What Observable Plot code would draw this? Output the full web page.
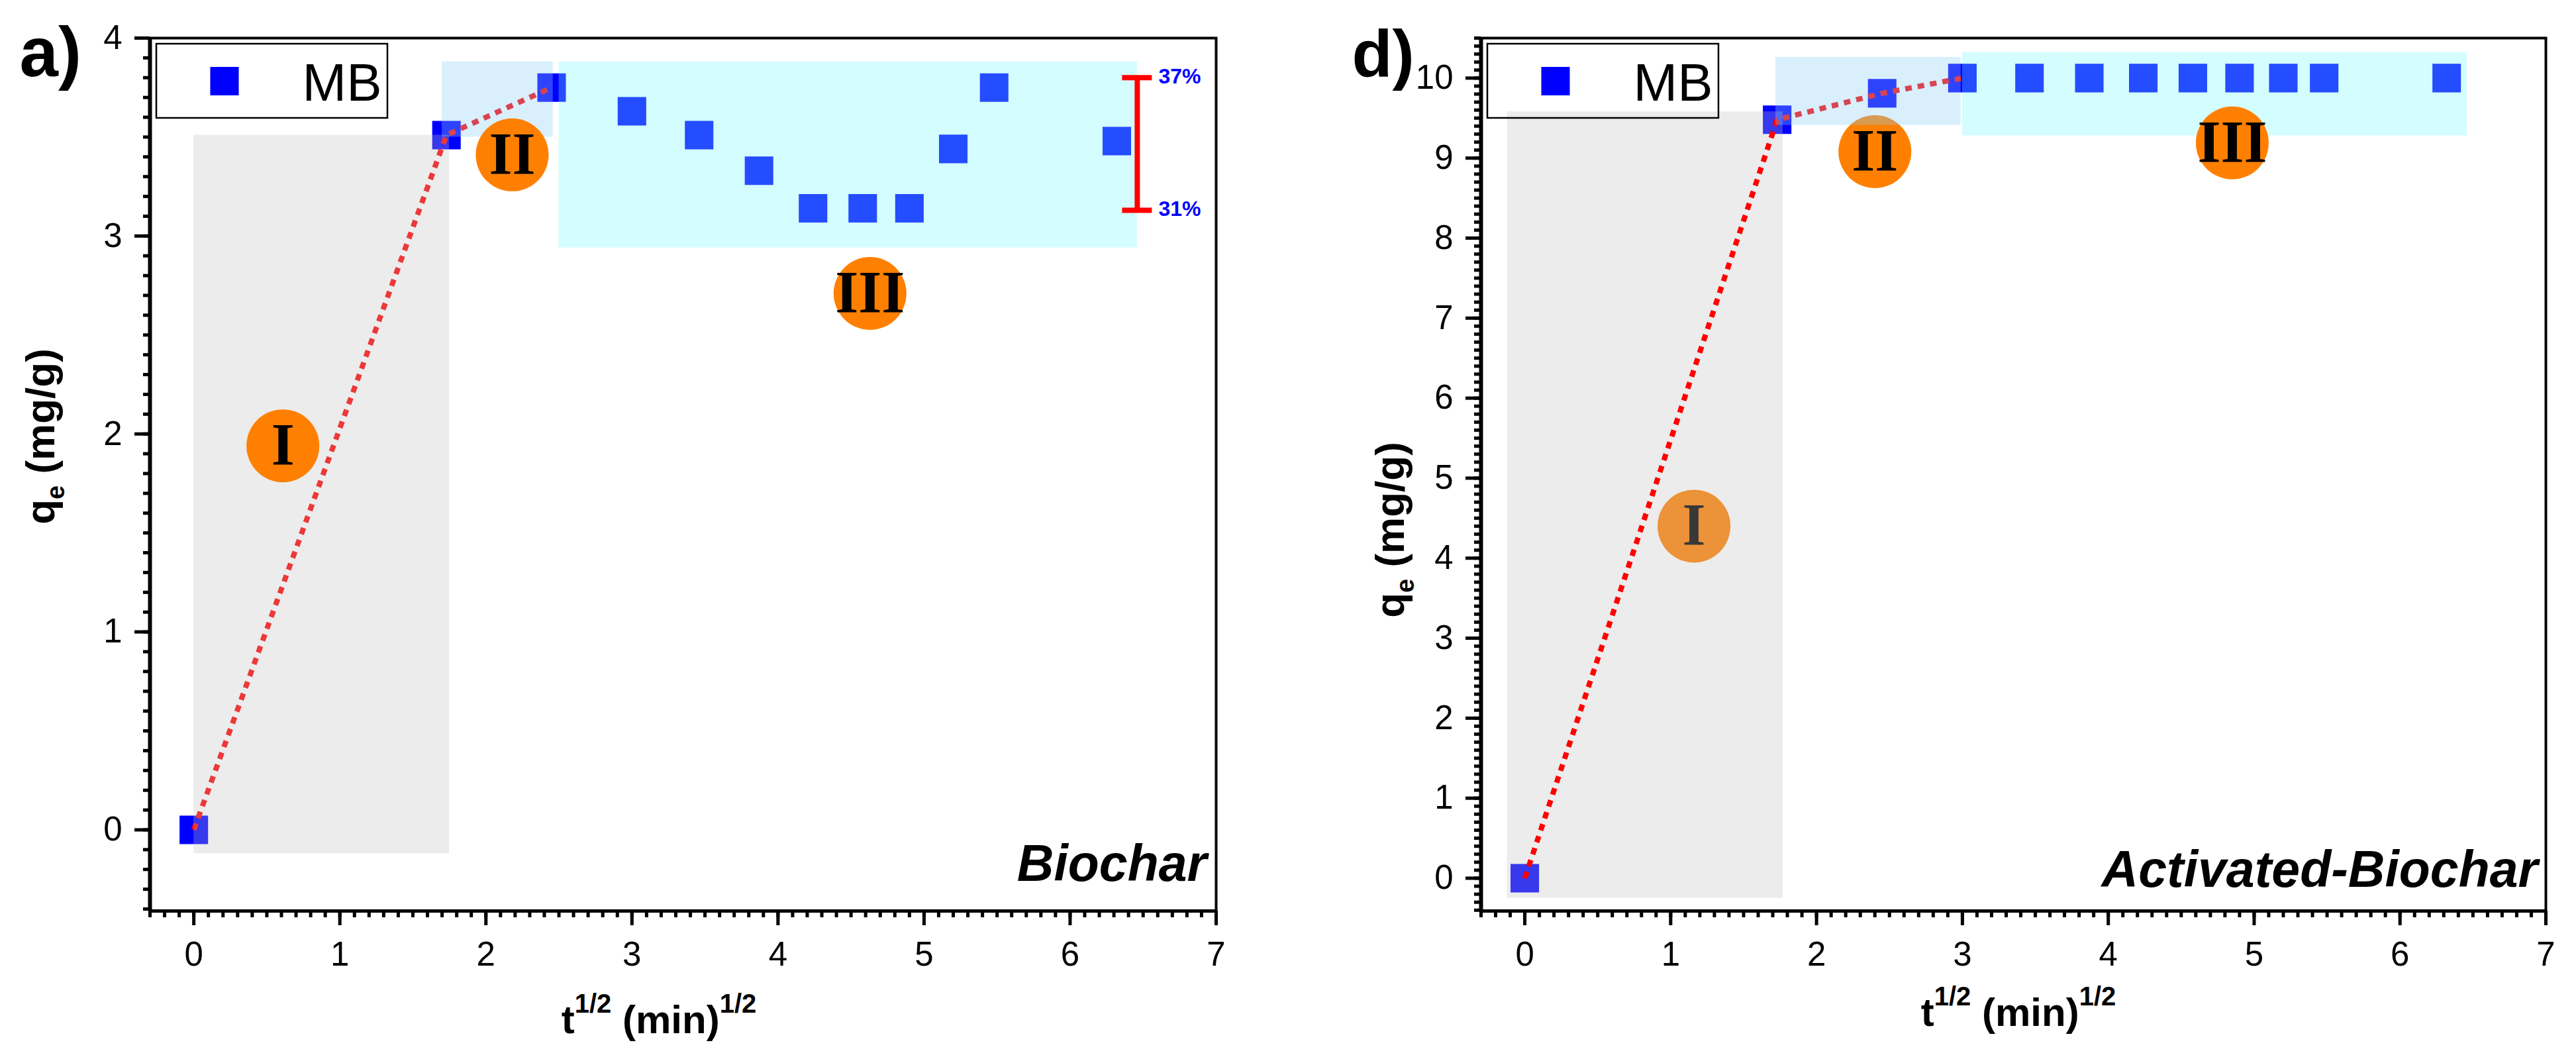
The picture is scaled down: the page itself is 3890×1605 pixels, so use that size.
<!DOCTYPE html>
<html>
<head>
<meta charset="utf-8">
<script src="https://cdn.jsdelivr.net/npm/d3@7"></script>
<script src="https://cdn.jsdelivr.net/npm/@observablehq/plot@0.6"></script>
<style>
  html, body { margin: 0; padding: 0; background: #fff; }
  #wrap { position: relative; width: 3890px; height: 1605px; overflow: hidden; background: #fff; }
  #wrap > svg { position: absolute; top: 0; overflow: visible; }
</style>
</head>
<body>
<div id="wrap"></div>
<script>
// ---------------- data ----------------
const sqrtTime    = [0, 1.73, 2.45, 3.00, 3.46, 3.87, 4.24, 4.58, 4.90, 5.20, 5.48, 6.32];
const qeBiochar   = [0, 3.51, 3.75, 3.63, 3.51, 3.33, 3.14, 3.14, 3.14, 3.44, 3.75, 3.48];
const qeActivated = [0, 9.48, 9.81, 10.0, 10.0, 10.0, 10.0, 10.0, 10.0, 10.0, 10.0, 10.0];
const fitPointsA = 3;   // points joined by the dotted line (Biochar)
const fitPointsD = 4;   // points joined by the dotted line (Activated-Biochar)
const seriesName = "MB";
const panelLetters = ["a)", "d)"];
const panelNames = ["Biochar", "Activated-Biochar"];

const stageLabels = ["I", "II", "III"];
const stageXA = [0.61, 2.18, 4.63];
const stageYA = [1.94, 3.41, 2.71];
const stageXD = [1.16, 2.40, 4.85];
const stageYD = [4.40, 9.08, 9.19];

// shaded stage regions (gray, light blue, cyan)
const regionX1A = [0.00, 1.70, 2.50], regionX2A = [1.75, 2.46, 6.46];
const regionY1A = [-0.12, 3.50, 2.94], regionY2A = [3.51, 3.88, 3.88];
const regionX1D = [-0.12, 1.72, 3.00], regionX2D = [1.77, 2.99, 6.46];
const regionY1D = [-0.25, 9.41, 9.28], regionY2D = [9.58, 10.26, 10.32];

// variation bar in panel a
const rangeX = 6.46;
const rangeValues = [3.13, 3.80];
const rangeLabels = ["31%", "37%"];

const xTicks  = [0, 1, 2, 3, 4, 5, 6, 7];
const yTicksA = [0, 1, 2, 3, 4];
const yTicksD = [0, 1, 2, 3, 4, 5, 6, 7, 8, 9, 10];

// ---------------- styling ----------------
const FONT  = "'Liberation Sans', Arial, Helvetica, sans-serif";
const SERIF = "'Liberation Serif', 'Times New Roman', serif";
const regionFill    = ["rgb(190,190,190)", "rgb(139,206,245)", "rgb(116,250,255)"];
const regionOpacity = [0.294, 0.33, 0.31];
const xDomain  = [-0.3, 7];
const yDomainA = [-0.41, 4];
const yDomainD = [-0.41, 10.5];
const xMinor  = d3.range(-3, 71).map(i => i / 10);
const yMinorA = d3.range(-4, 41).map(i => i / 10);
const yMinorD = d3.range(-4, 106).map(i => i / 10);
const intFormat = d3.format("d");

const pointsA = sqrtTime.map((t, i) => ({t, q: qeBiochar[i]}));
const pointsD = sqrtTime.map((t, i) => ({t, q: qeActivated[i]}));
const stagesA = stageLabels.map((s, i) => ({s, x: stageXA[i], y: stageYA[i]}));
const stagesD = stageLabels.map((s, i) => ({s, x: stageXD[i], y: stageYD[i]}));
const regionsA = regionX1A.map((x1, i) => ({x1, x2: regionX2A[i], y1: regionY1A[i], y2: regionY2A[i]}));
const regionsD = regionX1D.map((x1, i) => ({x1, x2: regionX2D[i], y1: regionY1D[i], y2: regionY2D[i]}));
const rangeRows = rangeValues.map((v, i) => ({x: rangeX, y: v, label: rangeLabels[i]}));

const W = 1945, H = 1605, MT = 57, MB = 230;

function regionMark(regions, i) {
  return Plot.rect([regions[i]], {x1: "x1", x2: "x2", y1: "y1", y2: "y2",
    fill: regionFill[i], fillOpacity: regionOpacity[i]});
}
function stageMarks(stages) {
  return [
    Plot.dot(stages, {x: "x", y: "y", r: 55, fill: "#ff8000"}),
    Plot.text(stages, {x: "x", y: "y", text: "s", fontFamily: SERIF, fontWeight: "bold",
      fontSize: 90, fill: "black", lineAnchor: "middle"})
  ];
}
function axesMarks(yDomain, yTicks, yMinor) {
  return [
    Plot.axisX({ticks: xMinor, tickSize: 10, strokeWidth: 5, tickFormat: () => "", label: null}),
    Plot.axisX({ticks: xTicks, tickSize: 22, tickPadding: 24, strokeWidth: 5, fontSize: 51,
      tickFormat: intFormat, label: null}),
    Plot.axisY({ticks: yMinor, tickSize: 10, strokeWidth: 5, tickFormat: () => "", label: null}),
    Plot.axisY({ticks: yTicks, tickSize: 23, tickPadding: 19, strokeWidth: 5, fontSize: 51,
      tickFormat: intFormat, label: null}),
    Plot.frame({stroke: "black", strokeWidth: 4}),
    Plot.ruleX([xDomain[0]], {stroke: "black", strokeWidth: 6}),
    Plot.ruleY([yDomain[0]], {stroke: "black", strokeWidth: 5})
  ];
}
function legendMarks() {
  return [
    Plot.dot([seriesName], {frameAnchor: "top-left", dx: 112.5, dy: 65, symbol: "square", r: 24.3, fill: "#0000ff"}),
    Plot.text([seriesName], {frameAnchor: "top-left", text: d => d, dx: 230, dy: 69, textAnchor: "start",
      lineAnchor: "middle", fontSize: 80, fill: "black"})
  ];
}
function basePlot(marginLeft, marginRight, yDomain, marks) {
  return Plot.plot({
    width: W, height: H, marginTop: MT, marginBottom: MB, marginLeft, marginRight,
    style: {fontFamily: FONT, fontSize: "51px", background: "transparent", overflow: "visible", color: "black"},
    x: {domain: xDomain, label: null},
    y: {domain: yDomain, label: null},
    marks
  });
}

// ---------------- panel a ----------------
const plotA = basePlot(226, 109, yDomainA, [
  Plot.dot(pointsA, {x: "t", y: "q", symbol: "square", r: 24.3, fill: "#0000ff"}),
  Plot.line(pointsA.slice(0, fitPointsA), {x: "t", y: "q", stroke: "#ff0000", strokeWidth: 8,
    strokeDasharray: "10,9", strokeLinecap: "butt"}),
  regionMark(regionsA, 0), regionMark(regionsA, 1), regionMark(regionsA, 2),
  ...stageMarks(stagesA),
  Plot.ruleX([rangeX], {y1: rangeValues[0], y2: rangeValues[1], stroke: "#ff0000", strokeWidth: 8}),
  Plot.ruleY(rangeRows, {y: "y", x1: d => d.x - 0.102, x2: d => d.x + 0.102, stroke: "#ff0000", strokeWidth: 8}),
  Plot.text(rangeRows, {x: "x", y: "y", text: "label", dx: 32, dy: -2, textAnchor: "start",
    lineAnchor: "middle", fill: "#0000ff", fontWeight: "bold", fontSize: 32}),
  ...legendMarks(),
  Plot.text([panelNames[0]], {frameAnchor: "bottom-right", text: d => d, dx: -14, dy: -70, textAnchor: "end",
    lineAnchor: "middle", fontSize: 77, fontWeight: "bold", fontStyle: "italic", fill: "black"}),
  Plot.text([panelLetters[0]], {frameAnchor: "top-left", text: d => d, dx: -197, dy: 24, textAnchor: "start",
    lineAnchor: "middle", fontSize: 105, fontWeight: "bold", fill: "black"}),
  ...axesMarks(yDomainA, yTicksA, yMinorA)
]);

// ---------------- panel d ----------------
const plotD = basePlot(291, 46, yDomainD, [
  Plot.dot(pointsD, {x: "t", y: "q", symbol: "square", r: 24.3, fill: "#0000ff"}),
  ...stageMarks(stagesD.slice(0, 2)),
  regionMark(regionsD, 0),
  Plot.line(pointsD.slice(0, fitPointsD), {x: "t", y: "q", stroke: "#ff0000", strokeWidth: 8,
    strokeDasharray: "10,9", strokeLinecap: "butt"}),
  regionMark(regionsD, 1), regionMark(regionsD, 2),
  ...stageMarks(stagesD.slice(2)),
  ...legendMarks(),
  Plot.text([panelNames[1]], {frameAnchor: "bottom-right", text: d => d, dx: -12, dy: -61, textAnchor: "end",
    lineAnchor: "middle", fontSize: 77, fontWeight: "bold", fontStyle: "italic", fill: "black"}),
  Plot.text([panelLetters[1]], {frameAnchor: "top-left", text: d => d, dx: -195, dy: 26, textAnchor: "start",
    lineAnchor: "middle", fontSize: 100, fontWeight: "bold", fill: "black"}),
  ...axesMarks(yDomainD, yTicksD, yMinorD)
]);

// ---------------- decorations (legend box, axis titles with sup/sub) ----------------
function legendBox(svg, ml) {
  d3.select(svg).append("rect").attr("x", ml + 10).attr("y", MT + 9).attr("width", 349).attr("height", 112)
    .attr("fill", "none").attr("stroke", "black").attr("stroke-width", 2.5);
}
function xTitle(svg, cx, baseline) {
  const t = d3.select(svg).append("text").attr("x", cx).attr("y", baseline)
    .attr("text-anchor", "middle").attr("font-family", FONT).attr("font-weight", "bold")
    .attr("font-size", 60).attr("fill", "black").style("white-space", "pre");
  t.append("tspan").text("t");
  t.append("tspan").attr("dy", -31).attr("font-size", 40).text("1/2");
  t.append("tspan").attr("dy", 31).attr("font-size", 60).text(" (min)");
  t.append("tspan").attr("dy", -31).attr("font-size", 40).text("1/2");
}
function yTitle(svg, bx, cy) {
  const t = d3.select(svg).append("text").attr("transform", `translate(${bx},${cy}) rotate(-90)`)
    .attr("text-anchor", "middle").attr("font-family", FONT).attr("font-weight", "bold")
    .attr("font-size", 62).attr("fill", "black").style("white-space", "pre");
  t.append("tspan").text("q");
  t.append("tspan").attr("dy", 15).attr("font-size", 38).text("e");
  t.append("tspan").attr("dy", -15).attr("font-size", 62).text(" (mg/g)");
}

legendBox(plotA, 226);
legendBox(plotD, 291);
xTitle(plotA, 995, 1560);
xTitle(plotD, 3048 - W, 1549);
yTitle(plotA, 82, 659);
yTitle(plotD, 2120 - W, 800);

plotA.style.left = "0px";
plotD.style.left = W + "px";
const wrap = document.getElementById("wrap");
wrap.appendChild(plotA);
wrap.appendChild(plotD);
</script>
</body>
</html>
